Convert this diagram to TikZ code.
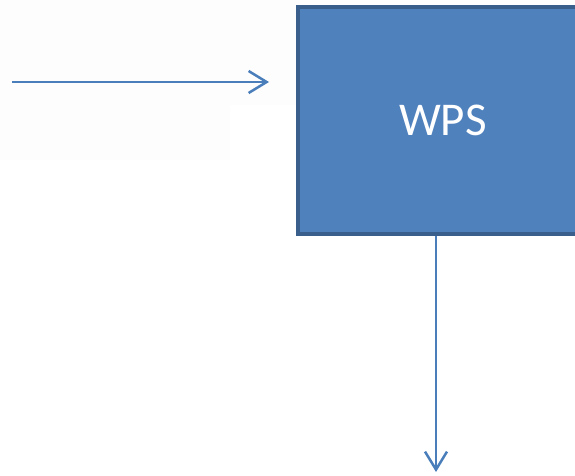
\documentclass[tikz,border=0pt]{standalone}
\usepackage{fontspec}
\setmainfont{Carlito}
\usetikzlibrary{arrows.meta}
\definecolor{boxfill}{HTML}{4F81BD}
\definecolor{boxline}{HTML}{3A5F8C}
\definecolor{arrowc}{HTML}{4A7EBB}
\definecolor{faint}{RGB}{253,253,253}
\begin{document}
\begin{tikzpicture}[x=1pt,y=1pt,
  wpsbox/.style={draw=boxline, fill=boxfill, line width=4pt, minimum width=290pt, minimum height=226pt, inner sep=0pt, text=white, font=\fontsize{47}{50}\selectfont},
  conn/.style={draw=arrowc, line width=2.5pt, -{Straight Barb[length=18pt,width=22pt]}}]
\useasboundingbox (0,0) rectangle (575,475);
\clip (0,0) rectangle (575,475);
\fill[faint] (0,475) -- (300,475) -- (300,370) -- (230,370) -- (230,315) -- (0,315) -- cycle;
\node[wpsbox] (wps) at (443,354.5) {WPS};
\coordinate (inS) at (12,393);
\coordinate (inE) at (269,393);
\coordinate (outE) at (436,3);
\draw[conn] (inS) -- (inE);
\draw[conn] (wps.south -| outE) -- (outE);
\end{tikzpicture}
\end{document}
